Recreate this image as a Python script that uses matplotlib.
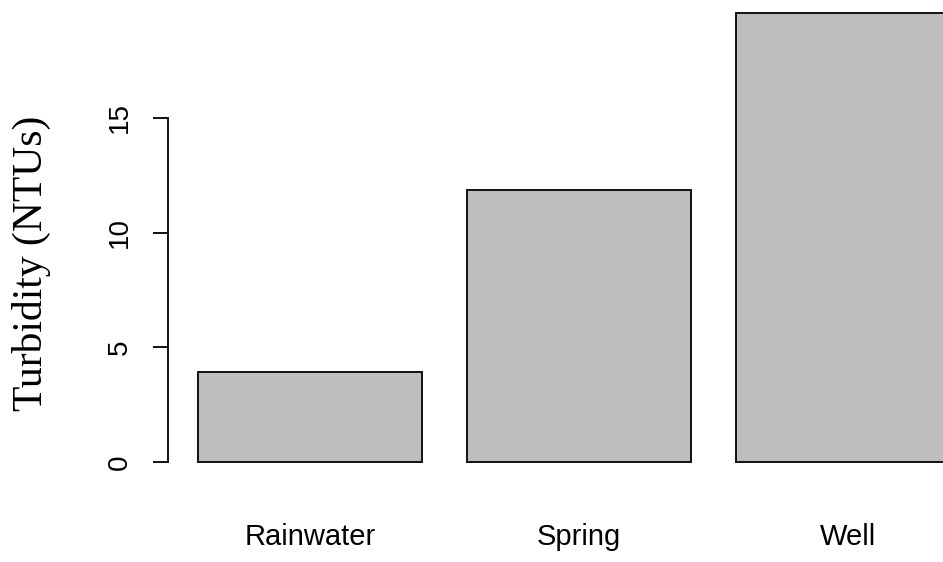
import matplotlib
matplotlib.use("Agg")
import matplotlib.pyplot as plt
import numpy as np

sources = ["Rainwater", "Spring", "Well"]
turbidity = [3.93, 11.85, 19.55]
yticks = [0, 5, 10, 15]

# R-style barplot layout: width 1, space 0.2
bar_w = 1.0
space = 0.2
centers = space + bar_w / 2 + np.arange(len(sources)) * (bar_w + space)

W, H = 943, 562
fig = plt.figure(figsize=(W / 100, H / 100), dpi=100)
ax = fig.add_axes([0, 0, 1, 1])

# pixel scale of the plot region (224 px per bar unit, ~22.95 px per NTU)
x0_px, px_per_x = 153.2, 224.0
y0_px, px_per_y = 462.0, 22.95
ax.set_xlim(-x0_px / px_per_x, (W - x0_px) / px_per_x)
ax.set_ylim((y0_px - H) / px_per_y, y0_px / px_per_y)

ax.bar(centers, turbidity, width=bar_w, color="#bebebe",
       edgecolor="#111111", linewidth=1.4, zorder=2)

for s in ["top", "right", "bottom"]:
    ax.spines[s].set_visible(False)
ax.spines["left"].set_position(("data", (168 - x0_px) / px_per_x))
ax.spines["left"].set_bounds(0, 15)
ax.spines["left"].set_linewidth(1.4)
ax.spines["left"].set_color("#111111")
ax.set_xticks([])
ax.set_yticks(yticks)
ax.set_yticklabels([str(t) for t in yticks], rotation=90, va="center",
                   family="Liberation Sans", fontsize=20)
ax.tick_params(axis="y", length=11, width=1.4, color="#111111", pad=14.5)
ax.patch.set_visible(False)

for c, name in zip(centers, sources):
    ax.text(c, (y0_px - 537) / px_per_y, name, ha="center", va="center",
            family="Liberation Sans", fontsize=21)

fig.text(31 / W, 1 - 263 / H, "Turbidity (NTUs)", rotation=90,
         ha="center", va="center", family="Liberation Serif", fontsize=30)

fig.savefig("out.png", dpi=100)
